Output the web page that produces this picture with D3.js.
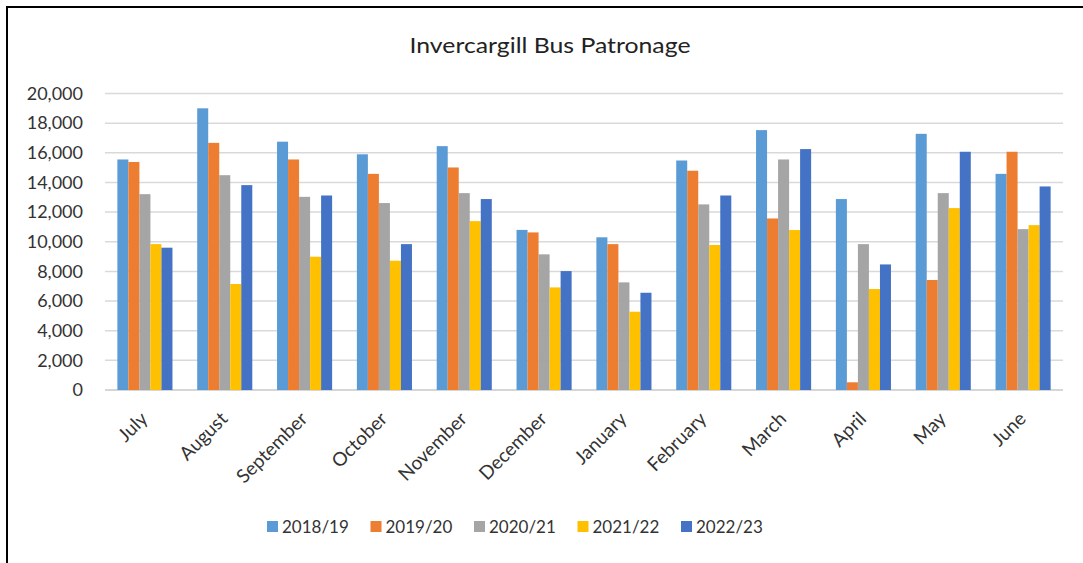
<!DOCTYPE html>
<html>
<head>
<meta charset="utf-8">
<script src="https://cdnjs.cloudflare.com/ajax/libs/d3/7.8.5/d3.min.js"></script>
<style>
  body { margin: 0; background: #fff; }
  svg { display: block; font-family: Lato, "Open Sans", sans-serif; }
</style>
</head>
<body>
<script>
// chart size
var w = 1083;
var h = 563;

// data
var months = ["July", "August", "September", "October", "November", "December",
              "January", "February", "March", "April", "May", "June"];
var seasons = ["2018/19", "2019/20", "2020/21", "2021/22", "2022/23"];
var s2018 = [15550, 19000, 16750, 15900, 16450, 10800, 10300, 15480, 17530, 12880, 17280, 14580];
var s2019 = [15380, 16670, 15550, 14580, 15010, 10630, 9840, 14790, 11570, 520, 7420, 16070];
var s2020 = [13210, 14490, 13030, 12610, 13280, 9150, 7260, 12520, 15550, 9840, 13280, 10850];
var s2021 = [9840, 7150, 8990, 8720, 11390, 6920, 5280, 9780, 10790, 6810, 12270, 11120];
var s2022 = [9600, 13820, 13120, 9840, 12880, 8020, 6560, 13120, 16250, 8470, 16070, 13730];
var yTicks = [0, 2000, 4000, 6000, 8000, 10000, 12000, 14000, 16000, 18000, 20000];
var colors = ["#5B9BD5", "#ED7D31", "#A5A5A5", "#FFC000", "#4472C4"];

var allSeries = [s2018, s2019, s2020, s2021, s2022];

var svg = d3.select("body").append("svg")
  .attr("width", w)
  .attr("height", h);

// outer frame
svg.append("rect")
  .attr("x", 7).attr("y", 7)
  .attr("width", w + 20).attr("height", h + 20)
  .attr("fill", "none")
  .attr("stroke", "#000")
  .attr("stroke-width", 2);

// title
svg.append("text")
  .attr("x", 550).attr("y", 53)
  .attr("text-anchor", "middle")
  .attr("font-size", 22)
  .attr("textLength", 281)
  .attr("lengthAdjust", "spacingAndGlyphs")
  .attr("fill", "#222")
  .text("Invercargill Bus Patronage");

var x0 = d3.scaleBand().domain(months).range([105, 1063]).paddingInner(0.31).paddingOuter(0.155);
var x1 = d3.scaleBand().domain(seasons).range([0, x0.bandwidth()]);
var y = d3.scaleLinear().domain([0, 20000]).range([390, 93.5]);

// gridlines
svg.append("g").selectAll("line")
  .data(yTicks)
  .enter().append("line")
  .attr("x1", 105).attr("x2", 1063)
  .attr("y1", function(d) { return y(d); })
  .attr("y2", function(d) { return y(d); })
  .attr("stroke", function(d) { return d === 0 ? "#c8c8c8" : "#d9d9d9"; })
  .attr("stroke-width", 1.5);

// y axis labels
var yAxis = svg.append("g")
  .attr("transform", "translate(83,0)")
  .call(d3.axisLeft(y).tickValues(yTicks).tickSize(0).tickPadding(0).tickFormat(d3.format(",")));
yAxis.select(".domain").remove();
yAxis.selectAll("text")
  .attr("font-size", 18)
  .attr("font-family", "Lato, sans-serif")
  .attr("fill", "#333");

// bars
var groups = svg.append("g").selectAll("g")
  .data(months)
  .enter().append("g")
  .attr("transform", function(d) { return "translate(" + x0(d) + ",0)"; });

groups.selectAll("rect")
  .data(function(m, i) { return seasons.map(function(s, j) { return { s: s, v: allSeries[j][i], c: colors[j] }; }); })
  .enter().append("rect")
  .attr("x", function(d) { return x1(d.s); })
  .attr("width", x1.bandwidth())
  .attr("y", function(d) { return y(d.v); })
  .attr("height", function(d) { return y(0) - y(d.v); })
  .attr("fill", function(d) { return d.c; });

// x axis labels, rotated
var xAxis = svg.append("g")
  .attr("transform", "translate(0,390)")
  .call(d3.axisBottom(x0).tickSize(0).tickPadding(0));
xAxis.select(".domain").remove();
xAxis.selectAll("text")
  .attr("font-size", 19)
  .attr("font-family", "Lato, sans-serif")
  .attr("fill", "#333")
  .attr("text-anchor", "end")
  .attr("dy", 0)
  .attr("transform", "translate(4,30) rotate(-45)");

// legend
var legend = svg.append("g").selectAll("g")
  .data(seasons)
  .enter().append("g")
  .attr("transform", function(d, i) { return "translate(" + (267 + i * 103.5) + ",527)"; });
legend.append("rect")
  .attr("x", 0).attr("y", -6)
  .attr("width", 11).attr("height", 11)
  .attr("fill", function(d, i) { return colors[i]; });
legend.append("text")
  .attr("x", 15).attr("y", 6)
  .attr("font-size", 17)
  .attr("fill", "#333")
  .text(function(d) { return d; });
</script>
</body>
</html>
